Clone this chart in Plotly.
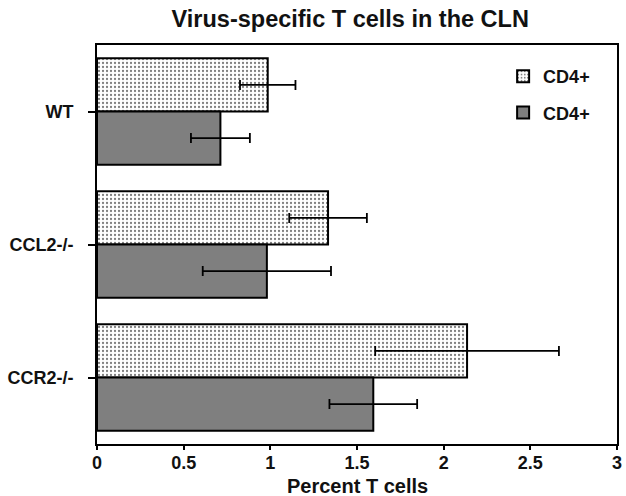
import plotly.graph_objects as go

categories = ["WT", "CCL2-/-", "CCR2-/-"]
series_names = ["CD4+", "CD4+"]
dotted_values = [0.985, 1.333, 2.135]
dotted_errors = [0.16, 0.224, 0.53]
gray_values = [0.712, 0.98, 1.594]
gray_errors = [0.17, 0.37, 0.253]
x_ticks = [0, 0.5, 1, 1.5, 2, 2.5, 3]
x_tick_labels = ["0", "0.5", "1", "1.5", "2", "2.5", "3"]

FONT = "Liberation Sans, Arial, Helvetica, sans-serif"
INK = "#111111"

fig = go.Figure()
fig.add_trace(go.Bar(
    y=categories, x=dotted_values, orientation="h", name=series_names[0],
    legendgroup="a",
    marker=dict(color="white", line=dict(color="black", width=2),
                pattern=dict(shape=".", fgcolor="black", bgcolor="white",
                             size=4, solidity=0.25, fillmode="overlay")),
    error_x=dict(type="data", array=dotted_errors, visible=True,
                 color="black", thickness=1.8, width=5),
))
fig.add_trace(go.Bar(
    y=categories, x=gray_values, orientation="h", name=series_names[1],
    legendgroup="b",
    marker=dict(color="#7f7f7f", line=dict(color="black", width=2)),
    error_x=dict(type="data", array=gray_errors, visible=True,
                 color="black", thickness=1.8, width=5),
))

fig.update_layout(
    width=626, height=496,
    margin=dict(l=97, r=4, t=45, b=52),
    paper_bgcolor="white", plot_bgcolor="white",
    barmode="group", bargap=0.2, bargroupgap=0,
    font=dict(family=FONT, color=INK, size=18, weight="bold"),
    title=dict(text="<b>Virus-specific T cells in the CLN</b>",
               font=dict(family=FONT, size=23.5, color=INK),
               x=0.487, xanchor="center", xref="paper",
               y=1 - 19 / 496, yanchor="middle", yref="container"),
    legend=dict(x=0.781, y=0.9675, xanchor="left", yanchor="top",
                traceorder="grouped", tracegroupgap=10,
                bgcolor="rgba(0,0,0,0)",
                font=dict(family=FONT, size=18, color=INK, weight="bold")),
    showlegend=True,
    annotations=[dict(text="<b>Percent T cells</b>", xref="paper", yref="paper",
                      x=0.5, y=-(486 - 444) / 400, xanchor="center",
                      yanchor="middle", showarrow=False,
                      font=dict(family=FONT, size=20, color=INK))],
)
fig.update_xaxes(
    range=[0, 3], tickvals=x_ticks, ticktext=x_tick_labels,
    showgrid=False, zeroline=False,
    showline=True, linecolor="black", linewidth=2, mirror=True,
    ticks="outside", ticklen=4, tickwidth=2, tickcolor="black",
    ticklabelstandoff=-3,
    tickfont=dict(family=FONT, size=18, color=INK, weight="bold"),
)
fig.update_yaxes(
    type="category", range=[2.5, -0.5],
    showgrid=False, zeroline=False,
    showline=True, linecolor="black", linewidth=2, mirror=True,
    ticks="outside", ticklen=7, tickwidth=2, tickcolor="black",
    ticklabelstandoff=11,
    tickfont=dict(family=FONT, size=18, color=INK, weight="bold"),
)

fig.write_html("out.html",
               config={"displayModeBar": False},
               post_script="document.body.style.margin='0';"
                           "document.body.style.overflow='hidden';")
